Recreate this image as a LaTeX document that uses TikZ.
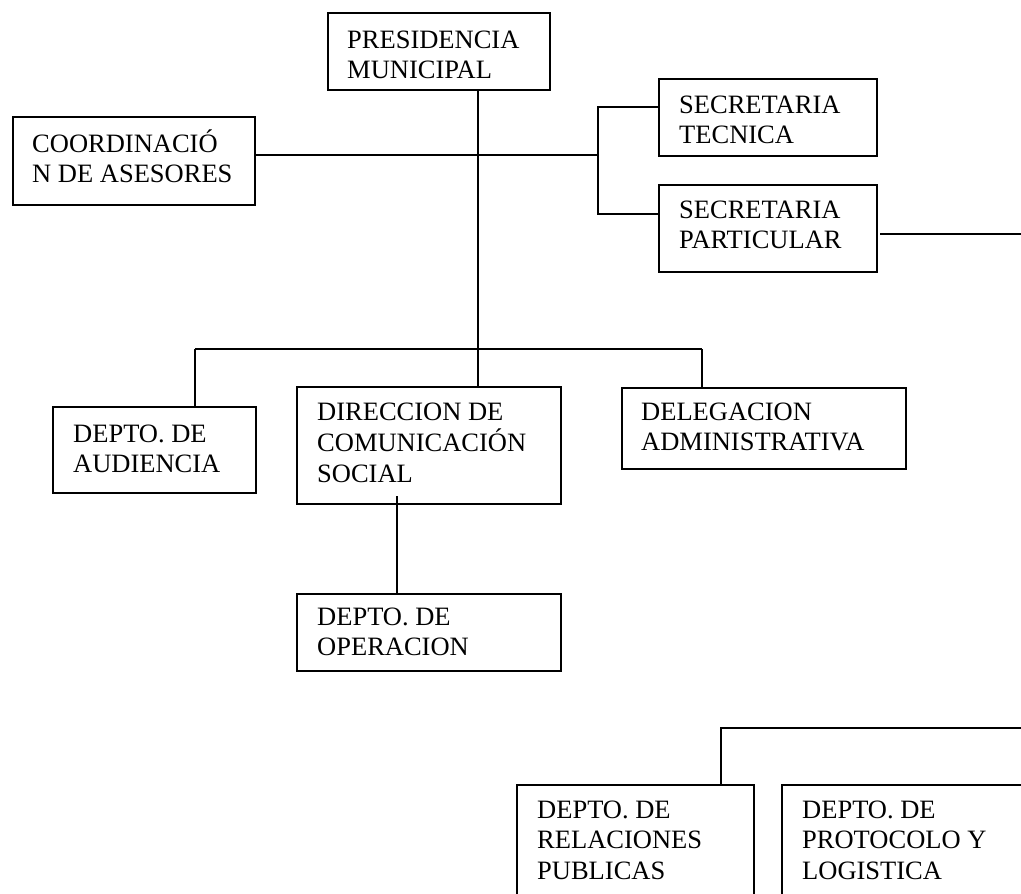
\documentclass[tikz,border=0pt]{standalone}
\usepackage{fontspec}
\setmainfont{Liberation Serif}
\newcommand{\mylines}[1]{\begin{tabular}[t]{@{}l@{}}#1\end{tabular}}
\begin{document}
\begin{tikzpicture}[x=1pt,y=-1pt,
  box/.style={draw, line width=1.8pt, anchor=north west, inner sep=0pt},
  txt/.style={anchor=base west, inner sep=0pt, font=\fontsize{26.5}{30.5}\selectfont},
  conn/.style={line width=1.8pt}]
\useasboundingbox (0,0) rectangle (1021,894);
\clip (0,0) rectangle (1021,894);
% boxes
\node[box, minimum width=222pt, minimum height=77pt] (pres) at (327,12) {};
\node[txt] (presT) at (347,48) {\mylines{PRESIDENCIA\\MUNICIPAL}};
\node[box, minimum width=242pt, minimum height=88pt] (coord) at (12,116) {};
\node[txt] (coordT) at (32,152) {\mylines{COORDINACIÓ\\N DE ASESORES}};
\node[box, minimum width=218pt, minimum height=77pt] (sectec) at (658,78) {};
\node[txt] (sectecT) at (679,113) {\mylines{SECRETARIA\\TECNICA}};
\node[box, minimum width=218pt, minimum height=87pt] (secpart) at (658,184) {};
\node[txt] (secpartT) at (679,218) {\mylines{SECRETARIA\\PARTICULAR}};
\node[box, minimum width=203pt, minimum height=86pt] (aud) at (52,406) {};
\node[txt] (audT) at (73,442) {\mylines{DEPTO. DE\\AUDIENCIA}};
\node[box, minimum width=264pt, minimum height=117pt] (dir) at (296,386) {};
\node[txt] (dirT) at (317,420) {\mylines{DIRECCION DE\\COMUNICACIÓN\\SOCIAL}};
\node[box, minimum width=284pt, minimum height=81pt] (del) at (621,387) {};
\node[txt] (delT) at (641,420) {\mylines{DELEGACION\\ADMINISTRATIVA}};
\node[box, minimum width=264pt, minimum height=77pt] (oper) at (296,593) {};
\node[txt] (operT) at (317,625) {\mylines{DEPTO. DE\\OPERACION}};
\node[box, minimum width=237pt, minimum height=130pt] (rel) at (516,784) {};
\node[txt] (relT) at (537,818) {\mylines{DEPTO. DE\\RELACIONES\\PUBLICAS}};
\node[box, minimum width=260pt, minimum height=130pt] (prot) at (781,784) {};
\node[txt] (protT) at (802,818) {\mylines{DEPTO. DE\\PROTOCOLO Y\\LOGISTICA}};
% helper coordinates
\coordinate (trunk) at (478,0);
\coordinate (hb) at (598,155);
\coordinate (b1) at (598,107);
\coordinate (b2) at (598,214);
\coordinate (r1) at (880,234);
\coordinate (r2) at (1025,234);
\coordinate (hl) at (195,349);
\coordinate (hr) at (702,349);
\coordinate (op) at (397,496);
\coordinate (bt) at (1025,728);
\coordinate (bl) at (721,728);
% connectors
\draw[conn] (pres.south -| trunk) -- (dir.north -| trunk);
\draw[conn] (coord.east |- hb) -- (hb);
\draw[conn] (sectec.west |- b1) -- (b1) -- (b2) -- (secpart.west |- b2);
\draw[conn] (r1) -- (r2);
\draw[conn] (hl) -- (hr);
\draw[conn] (hl) -- (aud.north -| hl);
\draw[conn] (hr) -- (del.north -| hr);
\draw[conn] (op) -- (oper.north -| op);
\draw[conn] (bt) -- (bl) -- (rel.north -| bl);
\end{tikzpicture}
\end{document}
